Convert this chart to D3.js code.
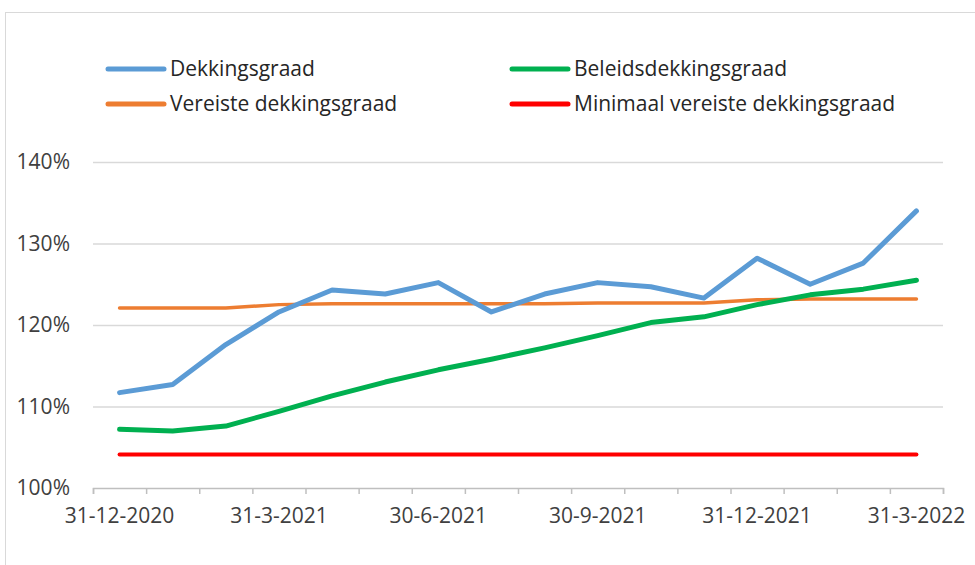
<!DOCTYPE html>
<html>
<head>
<meta charset="utf-8">
<script src="https://cdn.jsdelivr.net/npm/d3@7"></script>
<style>
  body { margin: 0; background: #fff; }
  svg { display: block; font-family: "Open Sans", sans-serif; }
</style>
</head>
<body>
<svg id="chart"></svg>
<script>
(function() {

    // Month-end dates (category axis)
    const dates = [
        '31-12-2020', '31-1-2021', '28-2-2021', '31-3-2021', '30-4-2021', '31-5-2021',
        '30-6-2021', '31-7-2021', '31-8-2021', '30-9-2021', '31-10-2021', '30-11-2021',
        '31-12-2021', '31-1-2022', '28-2-2022', '31-3-2022'
    ];
    const labelDates = ['31-12-2020', '31-3-2021', '30-6-2021', '30-9-2021', '31-12-2021', '31-3-2022'];

    const dekkingsgraad = [111.7, 112.7, 117.6, 121.6, 124.3, 123.8, 125.2, 121.6, 123.8, 125.2, 124.7, 123.3, 128.2, 125.0, 127.6, 134.0];
    const beleidsdekkingsgraad = [107.2, 107.0, 107.6, 109.4, 111.3, 113.0, 114.5, 115.8, 117.2, 118.7, 120.3, 121.0, 122.5, 123.7, 124.4, 125.5];
    const vereisteDekkingsgraad = [122.1, 122.1, 122.1, 122.5, 122.6, 122.6, 122.6, 122.6, 122.6, 122.7, 122.7, 122.7, 123.1, 123.2, 123.2, 123.2];
    const minimaalVereiste = [104.1, 104.1, 104.1, 104.1, 104.1, 104.1, 104.1, 104.1, 104.1, 104.1, 104.1, 104.1, 104.1, 104.1, 104.1, 104.1];

    const yTicks = [100, 110, 120, 130, 140];

    const series = [
        { name: 'Dekkingsgraad', values: dekkingsgraad, color: '#5b9bd5', width: 5 },
        { name: 'Beleidsdekkingsgraad', values: beleidsdekkingsgraad, color: '#00b050', width: 5 },
        { name: 'Vereiste dekkingsgraad', values: vereisteDekkingsgraad, color: '#ed7d31', width: 3.5 },
        { name: 'Minimaal vereiste dekkingsgraad', values: minimaalVereiste, color: '#ff0000', width: 4 }
    ];
    // draw order: red, orange, green, blue on top
    const drawOrder = [3, 2, 1, 0];

    const w = 975;
    const h = 565;
    const left = 93, right = 943, top = 162, bottom = 488;

    const svg = d3.select('#chart')
        .attr('width', w)
        .attr('height', h);

    // Chart frame
    svg.append('rect')
        .attr('x', 5.5)
        .attr('y', 12.5)
        .attr('width', 1000)
        .attr('height', 600)
        .attr('fill', 'none')
        .attr('stroke', '#d9d9d9');

    // Scales
    const scaleX = d3.scaleBand().domain(dates).range([left, right]);
    const scaleTick = d3.scaleLinear().domain([0, dates.length]).range([left, right]);
    const scaleY = d3.scaleLinear().domain([100, 140]).range([bottom, top]);

    // Gridlines
    svg.append('g')
        .selectAll('line')
        .data(yTicks.slice(1))
        .join('line')
        .attr('x1', left)
        .attr('x2', right)
        .attr('y1', d => scaleY(d) + 0.5)
        .attr('y2', d => scaleY(d) + 0.5)
        .attr('stroke', '#d9d9d9')
        .attr('stroke-width', 1.5);

    // Y axis labels
    const yAxis = d3.axisLeft(scaleY)
        .tickValues(yTicks)
        .tickSize(0)
        .tickPadding(23)
        .tickFormat(d => d + '%');

    svg.append('g')
        .attr('id', 'y-axis')
        .attr('transform', `translate(${left}, 0)`)
        .call(yAxis)
        .call(g => g.select('.domain').remove())
        .selectAll('text')
        .attr('font-size', 21)
        .attr('fill', '#404040')
        .attr('font-family', '"Open Sans", sans-serif');

    // X axis tick marks at category boundaries
    const xTickAxis = d3.axisBottom(scaleTick)
        .ticks(dates.length)
        .tickSize(6)
        .tickFormat('');

    svg.append('g')
        .attr('id', 'x-ticks')
        .attr('transform', `translate(0, ${bottom})`)
        .call(xTickAxis)
        .call(g => g.selectAll('path, line').attr('stroke', '#bfbfbf').attr('stroke-width', 1.5));

    // X axis labels
    const xAxis = d3.axisBottom(scaleX)
        .tickValues(labelDates)
        .tickSize(0)
        .tickPadding(20);

    svg.append('g')
        .attr('id', 'x-axis')
        .attr('transform', `translate(0, ${bottom})`)
        .call(xAxis)
        .call(g => g.select('.domain').remove())
        .selectAll('text')
        .attr('font-size', 21)
        .attr('fill', '#404040')
        .attr('font-family', '"Open Sans", sans-serif');

    // Lines
    const line = d3.line()
        .x((d, i) => scaleX(dates[i]) + scaleX.bandwidth() / 2)
        .y(d => scaleY(d));

    svg.append('g')
        .selectAll('path')
        .data(drawOrder.map(i => series[i]))
        .join('path')
        .attr('d', d => line(d.values))
        .attr('fill', 'none')
        .attr('stroke', d => d.color)
        .attr('stroke-width', d => d.width)
        .attr('stroke-linejoin', 'round')
        .attr('stroke-linecap', 'round');

    // Legend
    const legendPos = [[108, 69], [512, 69], [108, 104], [512, 104]];
    const legend = svg.append('g')
        .selectAll('g')
        .data(series)
        .join('g')
        .attr('transform', (d, i) => `translate(${legendPos[i][0]}, ${legendPos[i][1]})`);

    legend.append('line')
        .attr('x1', 0)
        .attr('x2', 56)
        .attr('stroke', d => d.color)
        .attr('stroke-width', 5)
        .attr('stroke-linecap', 'round');

    legend.append('text')
        .attr('x', 62)
        .attr('dy', '0.35em')
        .attr('font-size', 21)
        .attr('fill', '#262626')
        .text(d => d.name);

})();
</script>
</body>
</html>
